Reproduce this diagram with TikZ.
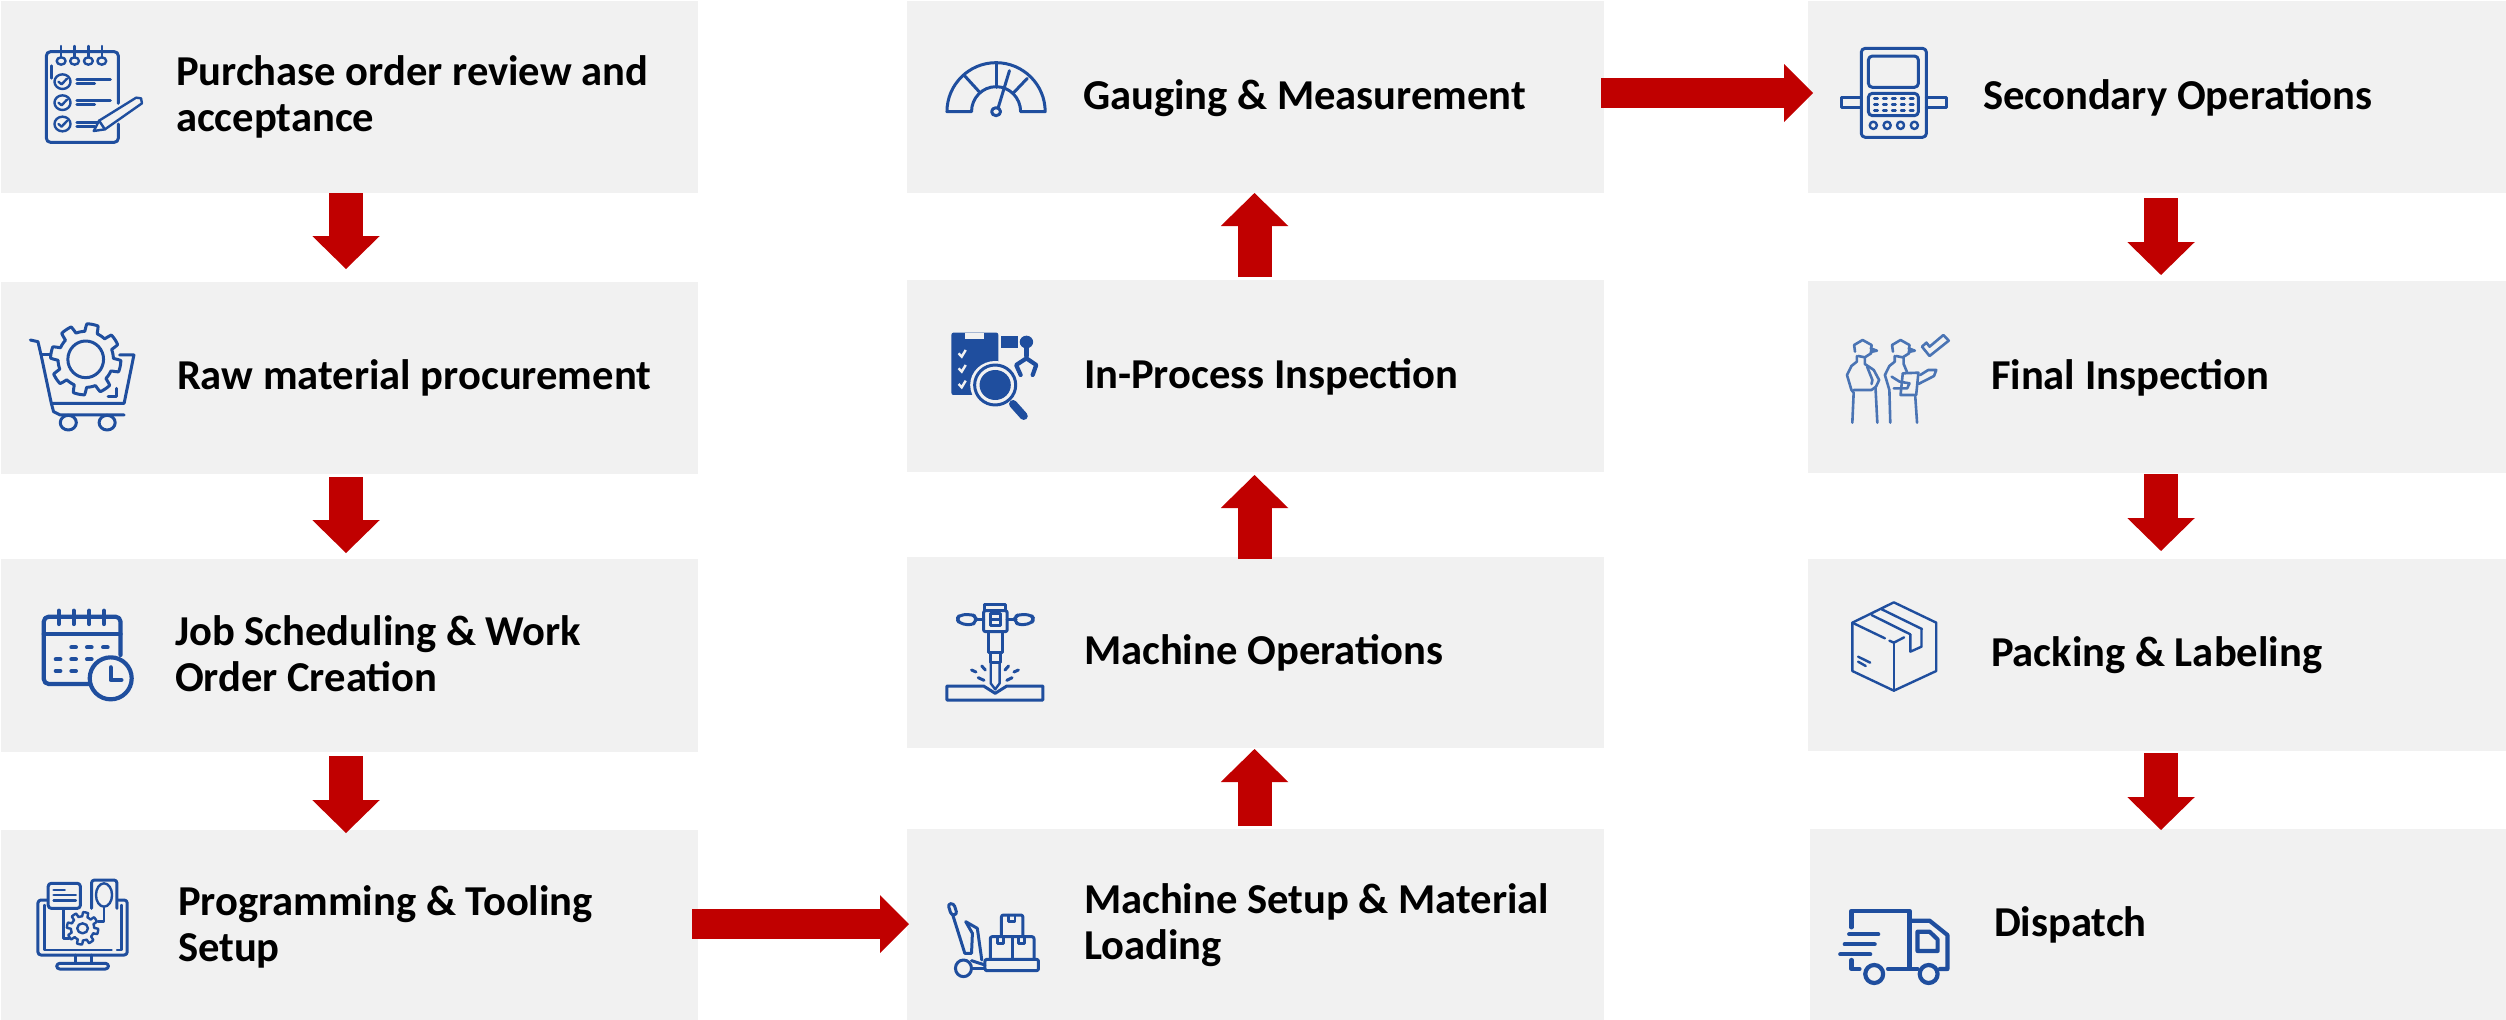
\documentclass[tikz,border=0pt]{standalone}
\usepackage{fontspec}
\setmainfont{Carlito}
\usetikzlibrary{arrows.meta}
\definecolor{iconblue}{HTML}{1F4E9E}
\definecolor{iconlight}{HTML}{4A74B4}
\definecolor{boxgrey}{HTML}{F1F1F1}
\definecolor{arrowred}{HTML}{C00000}
\newcommand{\tl}[2]{\vtop{\hbox{#1}\hbox{#2}}}
\newcommand{\gearshape}[6]{plot[domain=0:360,samples=361,variable=\t]
 ({#1+#3*(1+(#5-1)*max(0,min(1,0.5+2*sin(#6*\t))))*cos(\t)},
  {#2+#4*(1+(#5-1)*max(0,min(1,0.5+2*sin(#6*\t))))*sin(\t)}) -- cycle}
\tikzset{
 x=1pt,y=-1pt,
 box/.style={fill=boxgrey,draw=none,inner sep=0pt,outer sep=0pt,anchor=north west},
 label/.style={font=\fontsize{42.6}{46}\selectfont\bfseries,text=black,anchor=base west,inner sep=0pt,outer sep=0pt},
 downarrow/.style={draw=arrowred,line width=34pt,-{Triangle[width=67.5pt,length=33pt,line width=0pt]}},
 sidearrow/.style={draw=arrowred,line width=30pt,-{Triangle[width=58pt,length=29pt,line width=0pt]}},
 zs/.style 2 args={shift={(#1,#2)},x=0.44643pt,y=-0.33333pt},
 ic/.style={draw=iconblue,line width=3pt,line cap=round,line join=round},
 icthin/.style={draw=iconblue,line width=2.4pt,line cap=round,line join=round},
 ichvy/.style={draw=iconblue,line width=4.2pt,line cap=round,line join=round},
 iclt/.style={draw=iconlight,line width=2.6pt,line cap=round,line join=round},
}
\begin{document}
\begin{tikzpicture}
\useasboundingbox (0,0) rectangle (2506,1020);
% boxes
\node[box,minimum width=697pt,minimum height=192pt] (b1) at (1,1) {};
\node[box,minimum width=697pt,minimum height=192pt] (b2) at (1,282) {};
\node[box,minimum width=697pt,minimum height=193pt] (b3) at (1,559) {};
\node[box,minimum width=697pt,minimum height=190pt] (b4) at (1,830) {};
\node[box,minimum width=697pt,minimum height=192pt] (b5) at (907,829) {};
\node[box,minimum width=697pt,minimum height=191pt] (b6) at (907,557) {};
\node[box,minimum width=697pt,minimum height=192pt] (b7) at (907,280) {};
\node[box,minimum width=697pt,minimum height=192pt] (b8) at (907,1) {};
\node[box,minimum width=698pt,minimum height=192pt] (b9) at (1808,1) {};
\node[box,minimum width=698pt,minimum height=192pt] (b10) at (1808,281) {};
\node[box,minimum width=698pt,minimum height=192pt] (b11) at (1808,559) {};
\node[box,minimum width=696pt,minimum height=191pt] (b12) at (1810,829) {};
% labels
\node[label] (t1) at (176,85) {\tl{Purchase order review and}{acceptance}};
\node[label] (t2) at (177,389) {Raw material procurement};
\node[label] (t3) at (175,645) {\tl{Job Scheduling \& Work}{Order Creation}};
\node[label] (t4) at (178,915) {\tl{Programming \& Tooling}{Setup}};
\node[label] (t5) at (1084,913) {\tl{Machine Setup \& Material}{Loading}};
\node[label] (t6) at (1084,664) {Machine Operations};
\node[label] (t7) at (1084,388) {In-Process Inspection};
\node[label] (t8) at (1083,109) {Gauging \& Measurement};
\node[label] (t9) at (1983,109) {Secondary Operations};
\node[label] (t10) at (1991,389) {Final Inspection};
\node[label] (t11) at (1991,666) {Packing \& Labeling};
\node[label] (t12) at (1994,936) {Dispatch};
% arrow ends
\coordinate (a1s) at (346,193); \coordinate (a1e) at (346,269);
\coordinate (a2s) at (346,477); \coordinate (a2e) at (346,553);
\coordinate (a3s) at (346,756); \coordinate (a3e) at (346,833);
\coordinate (a4s) at (692,924); \coordinate (a4e) at (909,924);
\coordinate (a5s) at (1254.5,826); \coordinate (a5e) at (1254.5,749);
\coordinate (a6s) at (1254.5,559); \coordinate (a6e) at (1254.5,475);
\coordinate (a7s) at (1254.5,277); \coordinate (a7e) at (1254.5,193);
\coordinate (a8s) at (1601,93); \coordinate (a8e) at (1813,93);
\coordinate (a9s) at (2161,198); \coordinate (a9e) at (2161,275);
\coordinate (a10s) at (2161,474); \coordinate (a10e) at (2161,551);
\coordinate (a11s) at (2161,753); \coordinate (a11e) at (2161,830);
\draw[downarrow] (a1s) -- (a1e);
\draw[downarrow] (a2s) -- (a2e);
\draw[downarrow] (a3s) -- (a3e);
\draw[sidearrow] (a4s) -- (a4e);
\draw[downarrow] (a5s) -- (a5e);
\draw[downarrow] (a6s) -- (a6e);
\draw[downarrow] (a7s) -- (a7e);
\draw[sidearrow] (a8s) -- (a8e);
\draw[downarrow] (a9s) -- (a9e);
\draw[downarrow] (a10s) -- (a10e);
\draw[downarrow] (a11s) -- (a11e);
% icon: checklist
\begin{scope}[zs={0}{0}]
 \draw[ic,rounded corners=4pt] (265,310) -- (265,155) -- (104,155) -- (104,427) -- (265,427) -- (265,372);
 \foreach \p in {137,167,198,228}{\draw[icthin] (\p,183) ellipse (10 and 11);\draw[icthin] (\p,138)--(\p,172);}
 \draw[icthin] (115,197)--(115,235);
 \foreach \q in {245,308,372}{\draw[icthin] (140,\q) ellipse (18 and 22);\draw[icthin] (131,\q)--(138,\q+8)--(150,\q-9);}
 \foreach \q/\e in {238/247,300/247,367/225}{\draw[ic] (172,\q)--(\e,\q);\draw[ic] (172,\q+13)--(212,\q+13);}
 \draw[icthin,fill=boxgrey] (210,393)--(222,362)--(305,293)--(316,295)--(318,310)--(235,388)--cycle;
 \draw[icthin] (222,362)--(235,388);
\end{scope}
% icon: cart + gear
\begin{scope}[zs={0}{0}]
 \draw[ic] (68,1020)--(85,1025)--(92,1065)--(115,1210)--(278,1210)--(300,1065)--(268,1065);
 \draw[ic] (92,1065)--(118,1065);
 \draw[ic] (115,1210)--(120,1235)--(135,1245)--(278,1245);
 \draw[ic] (153,1268) ellipse (18 and 22);
 \draw[ic] (240,1268) ellipse (18 and 22);
 \draw[ic,fill=boxgrey] \gearshape{192}{1078}{62}{84}{1.27}{8};
 \draw[ic] (192,1078) ellipse (40 and 55);
 \draw[ic] (242,1190)--(262,1190)--(262,1165);
\end{scope}
% icon: calendar
\begin{scope}[zs={0}{520}]
 \draw[ichvy,rounded corners=5pt] (270,405)--(270,290)--(98,290)--(98,492)--(200,492);
 \draw[ichvy] (98,342)--(270,342);
 \foreach \p in {132,165,200,233}{\draw[ichvy] (\p,272)--(\p,312);}
 \foreach \p/\q in {165/382,200/382,236/382,130/418,165/418,200/418,130/453,165/453}{\draw[ichvy] (\p-5,\q)--(\p+5,\q);}
 \draw[ichvy] (248,475) ellipse (47 and 63);
 \draw[ichvy] (248,442)--(248,480)--(272,480);
\end{scope}
% icon: computer
\begin{scope}[zs={0}{520}]
 \draw[ic,rounded corners=3pt] (108,1140)--(85,1140)--(85,1305)--(285,1305)--(285,1140)--(265,1140);
 \draw[icthin] (100,1155)--(100,1290)--(250,1290);
 \draw[icthin] (262,1290)--(272,1290)--(272,1155);
 \draw[ic] (168,1305)--(168,1330);\draw[ic] (205,1305)--(205,1330);
 \draw[ic,rounded corners=3pt] (127,1330) rectangle (243,1347);
 \draw[ic,rounded corners=3pt,fill=boxgrey] (108,1090) rectangle (180,1165);
 \draw[icthin] (120,1110)--(145,1110);\draw[icthin] (120,1125)--(170,1125);\draw[icthin] (120,1142)--(170,1142);
 \draw[ic,rounded corners=3pt] (205,1165)--(205,1080)--(262,1080)--(262,1165);
 \draw[icthin] (233,1125) ellipse (18 and 35);
 \draw[icthin] (233,1160)--(233,1205)--(220,1205);
 \draw[icthin] (142,1165)--(142,1255)--(155,1255);
 \draw[icthin,fill=boxgrey] \gearshape{185}{1225}{26}{36}{1.35}{8};
 \draw[icthin] (185,1225) ellipse (12 and 15);
\end{scope}
% icon: gauge
\begin{scope}[zs={880}{0}]
 \draw[ic] (150,335) arc (180:360:110 and 147) -- (315,335) arc (360:180:55 and 75) -- cycle;
 \draw[ic] (260,190)--(260,262);
 \draw[ic] (190,228)--(222,275);
 \draw[ic] (330,235)--(298,280);
 \draw[ic] (290,212)--(265,322);
 \draw[ic] (260,335) ellipse (10 and 12);
\end{scope}
% icon: in-process inspection
\begin{scope}[zs={880}{0}]
 \fill[iconblue,rounded corners=2pt] (160,998) rectangle (265,1185);
 \fill[boxgrey] (190,998) rectangle (232,1016);
 \foreach \q in {1060,1105,1152}{\draw[boxgrey,line width=2.4pt] (176,\q)--(183,\q+10)--(192,\q-10);}
 \fill[iconblue] (272,1008) rectangle (310,1045);
 \fill[iconblue] (328,1026) ellipse (15 and 19);
 \draw[ichvy] (328,1045)--(328,1068);
 \draw[ichvy] (315,1125)--(305,1095)--(328,1075)--(350,1095)--(342,1125);
 \fill[boxgrey] (258,1155) ellipse (56 and 72);
 \draw[ic] (258,1155) ellipse (46 and 60);
 \fill[iconblue] (258,1155) ellipse (35 and 45);
 \draw[iconblue,line width=8pt,line cap=round] (298,1212)--(322,1248);
\end{scope}
% icon: jackhammer
\begin{scope}[zs={880}{520}]
 \draw[ic] (235,272)--(235,252)--(282,252)--(282,272);
 \draw[ic,rounded corners=2pt] (232,272) rectangle (285,335);
 \draw[ic] (248,280) rectangle (270,315);
 \draw[ic] (248,297)--(270,297);
 \draw[ic] (232,297)--(215,297);\draw[ic] (285,297)--(305,297);
 \draw[ic,rounded corners=4pt] (172,297)--(178,285)--(205,283)--(215,290)--(215,305)--(205,316)--(178,310)--cycle;
 \draw[ic,rounded corners=4pt] (345,297)--(339,285)--(312,283)--(302,290)--(302,305)--(312,316)--(339,310)--cycle;
 \draw[ic] (242,335) rectangle (275,398);
 \draw[ic] (247,398) rectangle (270,428);
 \draw[icthin] (248,428)--(248,490)--(258,508)--(268,490)--(268,428);
 \foreach \a/\b/\c/\d in {205/450/215/456,228/438/236/450,288/438/280/450,310/450/300/456,220/473/233/481,296/473/284/481}{\draw[ic] (\a,\b)--(\c,\d);}
 \draw[ic] (150,498)--(232,498)--(258,520)--(284,498)--(365,498)--(365,540)--(150,540)--cycle;
\end{scope}
% icon: pallet jack
\begin{scope}[zs={880}{520}]
 \draw[ic,rounded corners=3pt] (152,1152)--(165,1150)--(173,1183)--(160,1186)--cycle;
 \draw[ic] (163,1185)--(190,1300)--(205,1300)--(207,1240)--(192,1205)--(218,1225)--(228,1320);
 \draw[ic] (187,1345) ellipse (18 and 25);
 \draw[ic,rounded corners=2pt] (235,1318) rectangle (355,1352);
 \draw[ic] (205,1345)--(235,1345);\draw[ic] (205,1322)--(235,1335);
 \draw[ic,rounded corners=2pt] (247,1318)--(247,1250)--(345,1250)--(345,1318);
 \draw[ic] (296,1250)--(296,1318);
 \draw[ic,rounded corners=2pt] (272,1250)--(272,1185)--(320,1185)--(320,1250);
 \draw[icthin] (263,1250)--(263,1270)--(277,1270)--(277,1250);
 \draw[icthin] (310,1250)--(310,1270)--(324,1270)--(324,1250);
 \draw[icthin] (288,1185)--(288,1205)--(303,1205)--(303,1185);
\end{scope}
% icon: CNC panel
\begin{scope}[zs={1780}{0}]
 \draw[ic,rounded corners=4pt] (182,145) rectangle (328,412);
 \draw[ic,rounded corners=4pt] (198,168) rectangle (310,262);
 \draw[ic,rounded corners=4pt] (198,280) rectangle (310,347);
 \foreach \q in {296,314,331}\foreach \p in {215,235,255,275,295}{\draw[icthin] (\p-4,\q)--(\p+4,\q);}
 \foreach \p in {209,240,270,301}{\draw[icthin] (\p,376) ellipse (8 and 11);}
 \draw[ic] (182,293)--(138,293)--(138,322)--(182,322);
 \draw[ic] (328,293)--(372,293)--(372,322)--(328,322);
\end{scope}
% icon: inspectors
\begin{scope}[zs={1780}{0}]
 \draw[iclt] (168,1055)--(166,1035)--(185,1020)--(205,1035)--(204,1060)--(190,1072)--(175,1068);
 \draw[iclt] (203,1045)--(217,1052)--(203,1056);
 \draw[iclt] (172,1068)--(172,1085)--(160,1098)--(150,1125)--(160,1170)--(165,1178)--(162,1268);
 \draw[iclt] (190,1072)--(190,1092)--(210,1110)--(222,1140)--(215,1160)--(205,1170)--(165,1170);
 \draw[iclt] (195,1100)--(207,1140)--(205,1152);
 \draw[iclt] (214,1165)--(218,1268);
 \draw[iclt] (253,1055)--(251,1035)--(270,1020)--(290,1035)--(289,1060)--(275,1072)--(260,1068);
 \draw[iclt] (288,1045)--(302,1052)--(288,1056);
 \draw[iclt] (257,1068)--(257,1085)--(245,1098)--(235,1125)--(245,1170)--(247,1268);
 \draw[iclt] (277,1072)--(277,1092)--(285,1118);
 \draw[iclt] (303,1190)--(307,1268);
 \draw[iclt] (275,1120)--(310,1118)--(305,1185)--(270,1185)--cycle;
 \draw[iclt] (310,1152)--(345,1128)--(350,1110)--(332,1110)--(314,1125);
 \draw[iclt] (250,1130)--(268,1145)--(290,1150)--(285,1165)--(255,1165);
 \draw[iclt] (318,1040)--(335,1068)--(378,1022)--(366,1005)--(335,1040)--(328,1028)--cycle;
\end{scope}
% icon: parcel
\begin{scope}[zs={1780}{520}]
 \draw[icthin] (255,247)--(350,308)--(350,453)--(255,512)--(162,453)--(162,308)--cycle;
 \draw[icthin] (162,308)--(235,355);
 \draw[icthin] (245,362)--(255,368)--(278,352);
 \draw[icthin] (255,368)--(255,512);
 \draw[icthin] (205,285)--(292,343);
 \draw[icthin] (228,268)--(318,327);
 \draw[icthin] (292,343)--(292,395)--(317,380)--(317,327);
 \draw[icthin] (175,410)--(202,428);
 \draw[icthin] (175,425)--(192,438);
\end{scope}
% icon: truck
\begin{scope}[zs={1780}{520}]
 \draw[ichvy] (160,1222)--(160,1172)--(290,1172)--(290,1345);
 \draw[ichvy] (290,1202)--(335,1202)--(375,1245)--(375,1347)--(358,1347);
 \draw[ichvy] (308,1235)--(335,1235)--(353,1258)--(353,1293)--(308,1293)--cycle;
 \draw[ichvy] (211,1362) ellipse (20 and 27);
 \draw[ichvy] (333,1362) ellipse (20 and 27);
 \draw[ichvy] (242,1347)--(308,1347);
 \draw[ichvy] (160,1320)--(160,1347)--(178,1347);
 \draw[ichvy] (155,1243)--(220,1243);
 \draw[ichvy] (145,1273)--(212,1273);
 \draw[ichvy] (135,1303)--(202,1303);
\end{scope}
\end{tikzpicture}
\end{document}
